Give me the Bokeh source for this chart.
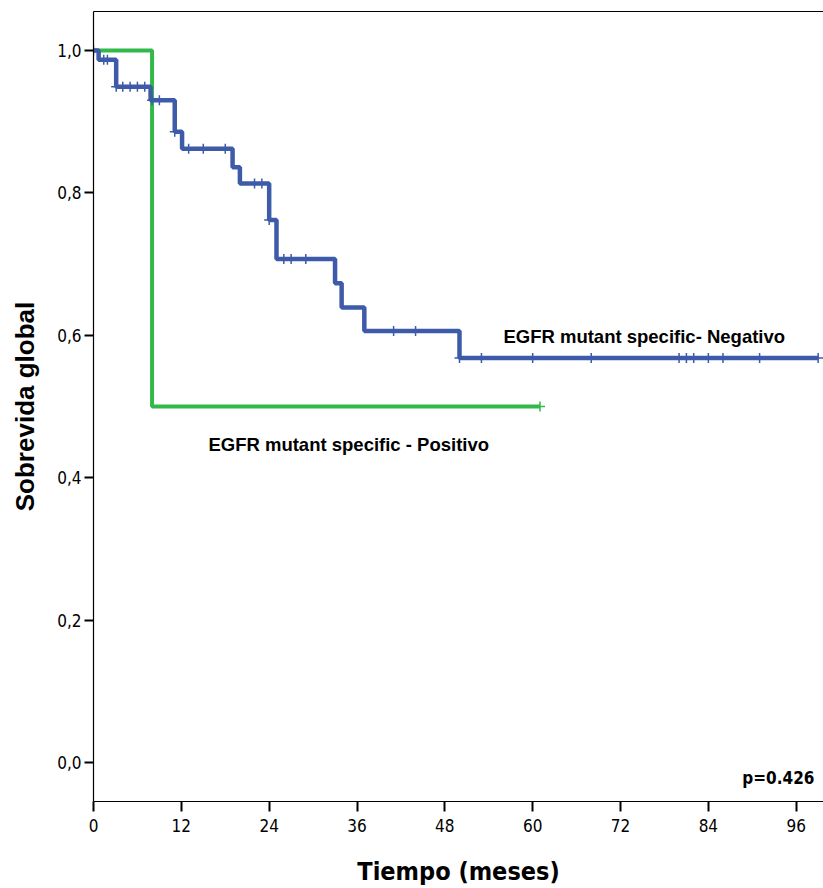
from bokeh.plotting import figure
from bokeh.models import Range1d, LinearAxis, FixedTicker, CustomJSTickFormatter, Label
from bokeh.embed import file_html
from bokeh.resources import INLINE

# Blue group: EGFR mutant specific - Negativo
neg_times = [0.0, 0.7, 3.1, 7.8, 11.1, 12.1, 19.0, 20.0, 24.0, 25.0, 33.0, 33.9, 37.0, 50.0, 99.0]
neg_surv = [1.0, 0.987, 0.949, 0.930, 0.886, 0.862, 0.836, 0.813, 0.762, 0.707, 0.673, 0.639, 0.606, 0.568, 0.568]
neg_cens_t = [0.0, 1.4, 1.9, 3.1, 4.0, 5.0, 6.0, 7.0, 8.0, 9.0, 11.1, 13.0, 15.0, 18.0, 22.0, 23.0,
              24.0, 26.0, 27.0, 29.0, 41.0, 44.0, 50.0, 53.0, 60.0, 68.0, 80.0, 81.0, 82.0, 84.0,
              86.0, 91.0, 99.0]

# Green group: EGFR mutant specific - Positivo
pos_times = [0.0, 8.0, 61.0]
pos_surv = [1.0, 0.5, 0.5]
pos_cens_t = [61.0]

x_ticks = [0, 12, 24, 36, 48, 60, 72, 84, 96]
y_ticks = [0.0, 0.2, 0.4, 0.6, 0.8, 1.0]

BLUE = "#3E5BA9"
GREEN = "#33B84A"


def surv_at(times, surv, t):
    s = surv[0]
    for ti, si in zip(times, surv):
        if ti <= t:
            s = si
    return s


p = figure(width=823, height=888, output_backend="svg", toolbar_location=None,
           x_range=Range1d(0, 99.73), y_range=Range1d(-0.0547, 1.0547),
           min_border_left=93, min_border_right=0, min_border_top=11, min_border_bottom=86)
p.xgrid.visible = False
p.ygrid.visible = False
p.outline_line_color = None
p.background_fill_color = "white"
p.border_fill_color = "white"

p.step(pos_times, pos_surv, mode="after", line_color=GREEN, line_width=4)
p.scatter(pos_cens_t, [surv_at(pos_times, pos_surv, t) for t in pos_cens_t], marker="cross",
          size=10, line_color=GREEN, line_width=1.5)
p.step(neg_times, neg_surv, mode="after", line_color=BLUE, line_width=4.5)
p.scatter(neg_cens_t, [surv_at(neg_times, neg_surv, t) for t in neg_cens_t], marker="cross",
          size=10, line_color=BLUE, line_width=1.5)

NARROW = "DejaVu Sans Condensed, Liberation Sans"

p.xaxis.ticker = FixedTicker(ticks=x_ticks)
p.yaxis.ticker = FixedTicker(ticks=y_ticks)
p.yaxis.formatter = CustomJSTickFormatter(code="return tick.toFixed(1).replace('.', ',');")
for ax in (p.xaxis[0], p.yaxis[0]):
    ax.axis_line_color = "black"
    ax.axis_line_width = 1.2
    ax.major_tick_line_color = "black"
    ax.major_tick_line_width = 2
    ax.minor_tick_line_color = None
    ax.major_tick_in = 0
    ax.major_label_text_font = NARROW
    ax.major_label_text_font_size = "17px"
    ax.major_label_text_color = "black"
    ax.axis_label_text_color = "black"
    ax.axis_label_text_font_style = "bold"

p.xaxis.major_tick_out = 10
p.xaxis.major_label_standoff = 7
p.xaxis.axis_label = "Tiempo (meses)"
p.xaxis.axis_label_text_font = NARROW
p.xaxis.axis_label_text_font_size = "25px"
p.xaxis.axis_label_standoff = 22

p.yaxis.major_tick_out = 9
p.yaxis.major_label_standoff = 3
p.yaxis.axis_label = "Sobrevida global"
p.yaxis.axis_label_text_font = "Liberation Sans"
p.yaxis.axis_label_text_font_size = "26px"
p.yaxis.axis_label_standoff = 14

top = LinearAxis(ticker=FixedTicker(ticks=[]), axis_line_color="black", axis_line_width=1.2,
                 major_tick_line_color=None, minor_tick_line_color=None,
                 major_label_text_font_size="0px")
p.add_layout(top, "above")

lab_font = "Liberation Sans"
p.add_layout(Label(x=56.0, y=0.598, text="EGFR mutant specific- Negativo", text_font=lab_font,
                   text_font_style="bold", text_font_size="18.5px", text_color="black",
                   text_baseline="alphabetic"))
p.add_layout(Label(x=15.7, y=0.446, text="EGFR mutant specific - Positivo", text_font=lab_font,
                   text_font_style="bold", text_font_size="18.5px", text_color="black",
                   text_baseline="alphabetic"))
p.add_layout(Label(x=98.5, y=-0.022, text="p=0.426", text_font=NARROW,
                   text_font_style="bold", text_font_size="17px", text_color="black",
                   text_align="right", text_baseline="alphabetic"))

open("out.html", "w").write(file_html(p, INLINE))
